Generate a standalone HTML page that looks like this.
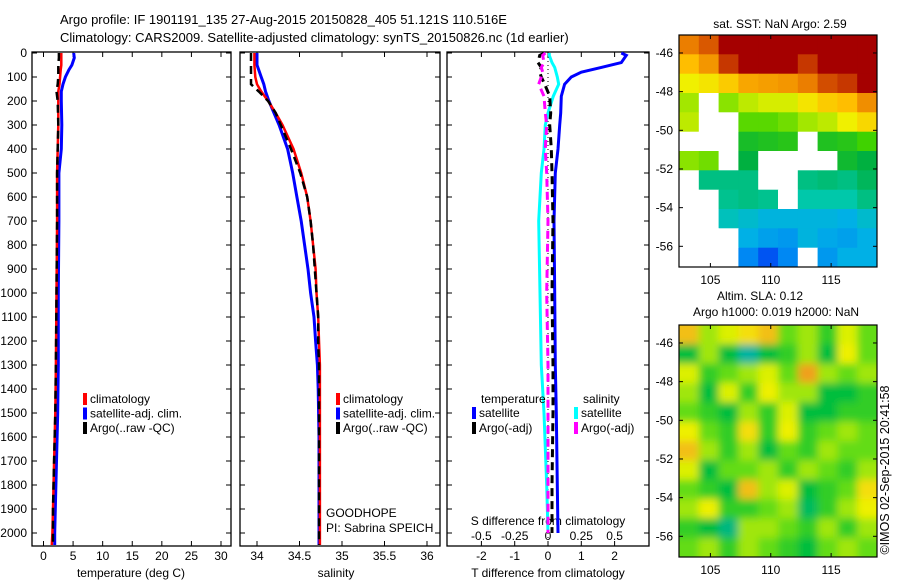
<!DOCTYPE html>
<html><head><meta charset="utf-8"><style>
body{margin:0;background:#fff;}
svg{display:block;font-family:"Liberation Sans",sans-serif;}
text{font-size:12px;fill:#000;}
</style></head><body>
<svg id="s" width="900" height="580" xmlns="http://www.w3.org/2000/svg">
<defs>
<filter id="blur" x="-20%" y="-20%" width="140%" height="140%"><feGaussianBlur stdDeviation="4"/></filter>
<clipPath id="slaclip"><rect x="679" y="325" width="198" height="232"/></clipPath>
</defs>
<rect width="900" height="580" fill="#fff"/>
<text x="60" y="24" style="font-size:13px">Argo profile: IF 1901191_135 27-Aug-2015 20150828_405 51.121S 110.516E</text>
<text x="60" y="42" style="font-size:13px">Climatology: CARS2009. Satellite-adjusted climatology: synTS_20150826.nc (1d earlier)</text>
<text x="889" y="470" transform="rotate(-90 889 470)" text-anchor="middle" style="font-size:12.5px">©IMOS 02-Sep-2015 20:41:58</text>
</svg>
<script>
// ---- data ----
const depthT = [0,20,50,70,100,130,160,200,300,400,500,700,1000,1300,1500,1700,1900,2000,2050];
const tempClim = [3.0,3.0,3.0,2.9,2.8,2.7,2.5,2.5,2.5,2.4,2.3,2.3,2.2,2.1,2.0,1.8,1.6,1.5,1.4];
const tempSat  = [5.1,5.2,4.8,4.3,3.7,3.3,3.0,3.0,3.1,3.0,2.6,2.6,2.5,2.5,2.4,2.2,2.0,1.9,1.9];
const tempArgo = [2.6,2.6,2.5,2.5,2.5,2.4,2.2,2.4,2.5,2.4,2.3,2.3,2.2,2.1,2.0,1.8,1.6,1.6,1.6];
const depthS = [0,50,100,130,160,200,250,300,400,500,600,700,800,900,1000,1100,1200,1300,1400,1600,2000,2050];
const salClim = [33.97,33.97,33.98,34.0,34.05,34.13,34.22,34.3,34.43,34.52,34.59,34.63,34.66,34.69,34.7,34.72,34.73,34.74,34.74,34.74,34.74,34.74];
const salSat  = [34.0,34.0,34.05,34.08,34.1,34.14,34.2,34.26,34.36,34.42,34.47,34.52,34.56,34.6,34.63,34.67,34.69,34.71,34.72,34.73,34.73,34.73];
const salArgo = [33.93,33.93,33.93,33.93,34.02,34.13,34.22,34.28,34.4,34.51,34.59,34.63,34.66,34.68,34.7,34.72,34.72,34.73,34.73,34.73,34.73,34.73];
const depthD = [0,10,40,60,80,100,130,180,250,300,400,500,700,1000,1300,1500,1800,2000];
const dTsat  = [2.2,2.35,2.2,1.6,1.0,0.7,0.5,0.4,0.38,0.35,0.3,0.22,0.18,0.2,0.22,0.25,0.28,0.3];
const dTargo = [-0.1,-0.25,-0.3,-0.2,-0.25,-0.2,-0.1,0.05,0.08,0.05,0.1,0.12,0.15,0.12,0.15,0.15,0.12,0.12];
const dSsat  = [0.01,0.01,0.03,0.05,0.06,0.07,0.08,0.04,0.0,-0.02,-0.03,-0.05,-0.07,-0.06,-0.05,-0.03,-0.01,0.0];
const dSargo = [-0.02,-0.04,-0.03,-0.05,-0.04,-0.05,-0.07,-0.03,-0.02,-0.01,-0.02,-0.01,0.0,-0.01,0.0,0.0,0.0,0.0];
const depthTicks = [0,100,200,300,400,500,600,700,800,900,1000,1100,1200,1300,1400,1500,1600,1700,1800,1900,2000];
const tempTicks = [0,5,10,15,20,25,30];
const salTicks = [34,34.5,35,35.5,36];
const tdTicks = [-2,-1,0,1,2];
const sdTicks = [-0.5,-0.25,0,0.25,0.5];
const latTicks = [46,48,50,52,54,56];
const lonTicks = [105,110,115];
// SST map: rows lat 45..57 (1 deg), cols 10 over lon; -1 = no data
const sstGrid = [
[0.88,0.92,1,1,1,1,1,1,1,1],
[0.8,0.85,0.95,1,1,1,0.95,1,1,1],
[0.72,0.74,0.78,0.83,0.84,0.85,0.88,0.93,0.95,1],
[0.66,-1,0.64,0.68,0.7,0.7,0.74,0.78,0.8,0.86],
[0.68,-1,-1,0.6,0.6,0.62,0.66,0.68,0.72,0.76],
[-1,-1,-1,0.53,0.54,0.55,-1,0.54,0.55,0.58],
[0.64,0.62,-1,0.5,-1,-1,-1,-1,0.52,0.5],
[-1,0.45,0.45,0.45,-1,-1,0.45,0.46,0.45,0.48],
[-1,-1,0.44,0.45,0.44,-1,0.42,0.42,0.42,0.45],
[-1,-1,0.4,0.38,0.36,0.36,0.36,0.36,0.35,0.38],
[-1,-1,-1,0.35,0.33,0.32,0.36,0.34,0.33,0.35],
[-1,-1,-1,0.3,0.22,0.3,-1,0.32,0.35,0.35]];
// SLA map
const slaGrid = [
[0.8,0.6,0.65,0.75,0.8,0.55,0.6,0.5,0.65,0.55],
[0.45,0.6,0.45,0.3,0.45,0.5,0.6,0.45,0.7,0.55],
[0.65,0.5,0.55,0.6,0.65,0.55,0.85,0.6,0.55,0.6],
[0.6,0.45,0.65,0.5,0.7,0.6,0.6,0.45,0.45,0.5],
[0.55,0.5,0.45,0.6,0.5,0.65,0.45,0.45,0.5,0.5],
[0.7,0.55,0.5,0.75,0.5,0.7,0.5,0.55,0.6,0.55],
[0.8,0.6,0.5,0.6,0.45,0.55,0.5,0.6,0.55,0.55],
[0.65,0.45,0.55,0.55,0.6,0.5,0.6,0.55,0.5,0.6],
[0.55,0.5,0.45,0.8,0.6,0.65,0.45,0.5,0.55,0.75],
[0.6,0.7,0.5,0.5,0.55,0.6,0.4,0.5,0.6,0.7],
[0.5,0.45,0.35,0.6,0.6,0.55,0.5,0.6,0.5,0.6],
[0.55,0.6,0.5,0.6,0.55,0.5,0.45,0.55,0.6,0.55]];

const NS='http://www.w3.org/2000/svg';
const svg=document.getElementById('s');
function mk(tag,attrs,parent){const e=document.createElementNS(NS,tag);for(const k in attrs)e.setAttribute(k,attrs[k]);(parent||svg).appendChild(e);return e;}
function txt(x,y,s,anchor){const t=mk('text',{x:x,y:y,'text-anchor':anchor||'start'});t.textContent=s;return t;}

const yTop=53, yPer100=24;
function yD(d){return yTop+d/100*yPer100;}
const yBot=546;
function linX(v0,x0,v1,x1){return v=>x0+(v-v0)*(x1-x0)/(v1-v0);}
const xT=linX(0,43.5,30,221);
const xS=linX(34,257,36,427);
const xTD=linX(0,548,2,614.6);
const xSD=linX(0,548,0.5,614.6);

function frame(x0,x1,name){
  const r=mk('rect',{x:x0,y:yTop-1,width:x1-x0,height:yBot-yTop+1,fill:'none',stroke:'#000','stroke-width':1.3});
  
  
  depthTicks.forEach(d=>{mk('line',{x1:x0,x2:x0+5,y1:yD(d),y2:yD(d),stroke:'#000'});mk('line',{x1:x1,x2:x1-5,y1:yD(d),y2:yD(d),stroke:'#000'});});
}
function xticks(ticks,f,labelY,fmt){ticks.forEach(v=>{const x=f(v);mk('line',{x1:x,x2:x,y1:yBot,y2:yBot-5,stroke:'#000'});mk('line',{x1:x,x2:x,y1:yTop-1,y2:yTop+4,stroke:'#000'});if(labelY){const t=txt(x,labelY,fmt?fmt(v):String(v),'middle');}});}
function path(xs,ds,fx,color,w,dash,name){
  const d=xs.map((v,i)=>(i?'L':'M')+fx(v).toFixed(1)+','+yD(ds[i]).toFixed(1)).join(' ');
  const p=mk('path',{d:d,fill:'none',stroke:color,'stroke-width':w});
  if(dash)p.setAttribute('stroke-dasharray',dash);
  
  
}
// panel 1
frame(32,231,'temperature-panel');
depthTicks.forEach(d=>{const t=txt(27,yD(d)+4,String(d),'end');});
xticks(tempTicks,xT,560);
let t1=txt(131,577,'temperature (deg C)','middle');
path(tempSat,depthT,xT,'#0000ff',3,null,'temp-satellite-line');
path(tempClim,depthT,xT,'#ff0000',2.5,null,'temp-climatology-line');
path(tempArgo,depthT,xT,'#000',2.5,'8,5','temp-argo-line');
// panel 2
frame(240,440,'salinity-panel');
xticks(salTicks,xS,560);
let t2=txt(336,577,'salinity','middle');
path(salSat,depthS,xS,'#0000ff',3,null,'sal-satellite-line');
path(salClim,depthS,xS,'#ff0000',2.5,null,'sal-climatology-line');
path(salArgo,depthS,xS,'#000',2.5,'8,5','sal-argo-line');
txt(326,517,'GOODHOPE');
txt(326,532,'PI: Sabrina SPEICH');
// panel 3
frame(447,649,'difference-panel');
xticks(tdTicks,xTD,560);
sdTicks.forEach(v=>{const t=txt(xSD(v),540,String(v),'middle');});
let t3=txt(548,577,'T difference from climatology','middle');
let t4=txt(548,525,'S difference from climatology','middle');
mk('line',{x1:xTD(0),x2:xTD(0),y1:yTop,y2:yBot,stroke:'#000','stroke-dasharray':'1,3'});
path(dTsat,depthD,xTD,'#0000ff',3,null,'tdiff-satellite-line');
path(dSsat,depthD,xSD,'#00ffff',3,null,'sdiff-satellite-line');
path(dTargo,depthD,xTD,'#000',3,'8,5','tdiff-argo-line');
path(dSargo,depthD,xSD,'#ff00ff',3,'8,5','sdiff-argo-line');
// legends
function leg(x,y,color,label,name){const r=mk('rect',{x:x,y:y-10,width:4,height:12,fill:color});txt(x+7,y,label);}
[[ '#ff0000','climatology'],['#0000ff','satellite-adj. clim.'],['#000','Argo(..raw -QC)']].forEach((e,i)=>{leg(83,403+i*14.5,e[0],e[1],'legend-entry');leg(336,403+i*14.5,e[0],e[1],'legend-entry');});
txt(481,403,'temperature');txt(583,403,'salinity');
leg(472,417,'#0000ff','satellite','legend-entry');leg(472,432,'#000','Argo(-adj)','legend-entry');
leg(574,417,'#00ffff','satellite','legend-entry');leg(574,432,'#ff00ff','Argo(-adj)','legend-entry');

// maps
const stops=[[0,[0,0,143]],[0.25,[0,96,255]],[0.35,[0,176,230]],[0.42,[0,200,170]],[0.5,[0,176,64]],[0.58,[64,210,0]],[0.65,[150,230,0]],[0.72,[240,240,0]],[0.8,[255,190,0]],[0.9,[230,110,0]],[1,[165,0,0]]];
function cmap(v){for(let i=1;i<stops.length;i++){if(v<=stops[i][0]){const a=stops[i-1],b=stops[i],f=(v-a[0])/(b[0]-a[0]);return 'rgb('+a[1].map((c,k)=>Math.round(c+(b[1][k]-c)*f)).join(',')+')';}}return 'rgb(165,0,0)';}
const slaStops=[[0.3,[0,180,160]],[0.45,[0,190,60]],[0.55,[100,220,20]],[0.65,[220,240,0]],[0.72,[245,240,0]],[0.85,[240,160,30]]];
function scmap(v){if(v<=slaStops[0][0])return 'rgb(0,180,160)';for(let i=1;i<slaStops.length;i++){if(v<=slaStops[i][0]){const a=slaStops[i-1],b=slaStops[i],f=(v-a[0])/(b[0]-a[0]);return 'rgb('+a[1].map((c,k)=>Math.round(c+(b[1][k]-c)*f)).join(',')+')';}}return 'rgb(240,160,30)';}
const lonL=102.4, lonR=118.8, latT=45.07, latB=57.07;
function drawMap(grid,top,bot,cm,name,smooth){
  const X=lon=>679+(lon-lonL)*(877-679)/(lonR-lonL);
  const Y=lat=>top+(lat-latT)*(bot-top)/(latB-latT);
  const rows=grid.length, cols=grid[0].length;
  const cw=(877-679)/cols, rh=(bot-top)/rows;
  let g=svg;
  if(smooth){const outer=mk('g',{'clip-path':'url(#slaclip)'});g=mk('g',{filter:'url(#blur)'},outer);}
  grid.forEach((row,i)=>row.forEach((v,j)=>{
    // edge cells extended outward so the blur does not fade at the frame
    const pl=smooth&&j===0?15:0, pr=smooth&&j===cols-1?15:0, pt=smooth&&i===0?15:0, pb=smooth&&i===rows-1?15:0;
    const r=mk('rect',{x:(679+j*cw-pl).toFixed(1),y:(top+i*rh-pt).toFixed(1),width:(cw+0.5+pl+pr).toFixed(1),height:(rh+0.5+pt+pb).toFixed(1),fill:v<0?'#fff':cm(v)},g);
    
    
  }));
  const fr=mk('rect',{x:679,y:top,width:198,height:bot-top,fill:'none',stroke:'#000','stroke-width':1.2});
  
  
  latTicks.forEach(l=>{const y=Y(l);mk('line',{x1:679,x2:683,y1:y,y2:y,stroke:'#000'});mk('line',{x1:877,x2:873,y1:y,y2:y,stroke:'#000'});const t=txt(673,y+4,'-'+l,'end');});
  lonTicks.forEach(l=>{const x=X(l);mk('line',{x1:x,x2:x,y1:top,y2:top+4,stroke:'#000'});mk('line',{x1:x,x2:x,y1:bot,y2:bot-4,stroke:'#000'});const t=txt(x,bot+17,String(l),'middle');});
}
drawMap(sstGrid,35,267,cmap,'sst-map',false);
drawMap(slaGrid,325,557,scmap,'sla-map',true);
txt(780,28,'sat. SST: NaN Argo: 2.59','middle');
txt(760,300,'Altim. SLA: 0.12','middle');
txt(776,316,'Argo h1000: 0.019 h2000: NaN','middle');
</script>
</body></html>
